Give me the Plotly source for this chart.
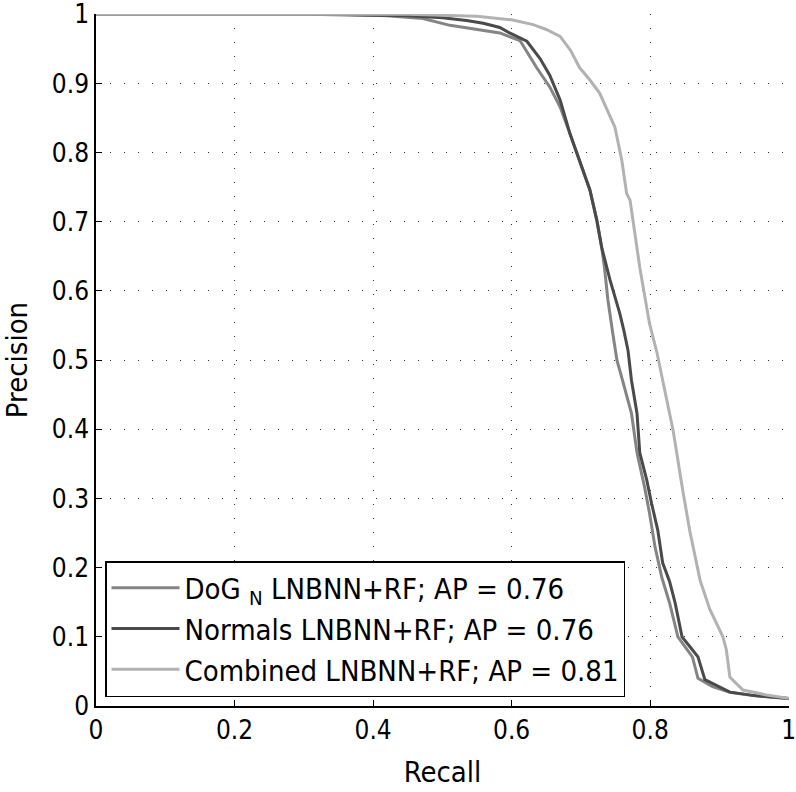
import plotly.graph_objects as go

# Combined LNBNN+RF (light gray)
comb_recall = [0, 0.45, 0.55, 0.60, 0.631, 0.65, 0.670, 0.685, 0.698, 0.713, 0.727, 0.738, 0.749,
               0.759, 0.766, 0.771, 0.781, 0.785, 0.799, 0.810, 0.818, 0.833, 0.847, 0.857, 0.872,
               0.886, 0.905, 0.910, 0.915, 0.934, 0.968, 1.0]
comb_prec = [1, 1, 0.997, 0.992, 0.985, 0.978, 0.968, 0.948, 0.923, 0.905, 0.886, 0.862, 0.837,
             0.789, 0.741, 0.731, 0.663, 0.634, 0.553, 0.510, 0.471, 0.399, 0.312, 0.254, 0.182,
             0.140, 0.100, 0.081, 0.042, 0.023, 0.016, 0.011]

# Normals LNBNN+RF (dark gray)
norm_recall = [0, 0.30, 0.45, 0.50, 0.535, 0.559, 0.583, 0.597, 0.622, 0.641, 0.655, 0.670, 0.684,
               0.698, 0.713, 0.723, 0.730, 0.742, 0.756, 0.762, 0.768, 0.773, 0.781, 0.785, 0.795,
               0.802, 0.811, 0.818, 0.828, 0.836, 0.846, 0.858, 0.869, 0.879, 0.895, 0.915, 0.95, 1.0]
norm_prec = [1, 1, 0.998, 0.995, 0.991, 0.987, 0.981, 0.973, 0.961, 0.936, 0.912, 0.876, 0.828,
             0.789, 0.746, 0.702, 0.663, 0.616, 0.568, 0.543, 0.514, 0.471, 0.423, 0.366, 0.327,
             0.293, 0.254, 0.207, 0.180, 0.149, 0.100, 0.085, 0.071, 0.038, 0.030, 0.020, 0.015, 0.011]

# DoG_N LNBNN+RF (medium gray)
dog_recall = [0, 0.35, 0.42, 0.472, 0.511, 0.559, 0.583, 0.612, 0.636, 0.655, 0.670, 0.684, 0.698,
              0.713, 0.723, 0.730, 0.734, 0.739, 0.746, 0.752, 0.760, 0.773, 0.781, 0.792, 0.799,
              0.807, 0.817, 0.828, 0.840, 0.861, 0.869, 0.89, 0.915, 0.95, 1.0]
dog_prec = [1, 1, 0.998, 0.994, 0.984, 0.977, 0.973, 0.962, 0.923, 0.895, 0.866, 0.828, 0.789,
            0.746, 0.702, 0.663, 0.634, 0.587, 0.539, 0.500, 0.471, 0.423, 0.366, 0.316, 0.279,
            0.230, 0.185, 0.149, 0.100, 0.071, 0.040, 0.028, 0.020, 0.015, 0.011]

tick_vals_x = [0, 0.2, 0.4, 0.6, 0.8, 1]
tick_text_x = ["0", "0.2", "0.4", "0.6", "0.8", "1"]
tick_vals_y = [0, 0.1, 0.2, 0.3, 0.4, 0.5, 0.6, 0.7, 0.8, 0.9, 1]
tick_text_y = ["0", "0.1", "0.2", "0.3", "0.4", "0.5", "0.6", "0.7", "0.8", "0.9", "1"]

FONT = "DejaVu Sans Condensed, sans-serif"

fig = go.Figure()
fig.add_trace(go.Scatter(x=dog_recall, y=dog_prec, mode="lines",
                         line=dict(color="#848484", width=3),
                         name="DoG <sub>N</sub> LNBNN+RF; AP = 0.76"))
fig.add_trace(go.Scatter(x=norm_recall, y=norm_prec, mode="lines",
                         line=dict(color="#4a4a4a", width=3),
                         name="Normals LNBNN+RF; AP = 0.76"))
fig.add_trace(go.Scatter(x=comb_recall, y=comb_prec, mode="lines",
                         line=dict(color="#b2b2b2", width=3),
                         name="Combined LNBNN+RF; AP = 0.81"))

axis_common = dict(
    showline=True, linecolor="black", linewidth=1.5, mirror=False,
    ticks="inside", ticklen=6, tickcolor="black", tickwidth=1,
    showgrid=True, gridcolor="#333333", gridwidth=1, griddash="1px,13px",
    zeroline=False, tickfont=dict(family=FONT, size=26, color="black"),
    automargin=False, ticklabeloverflow="allow",
)

fig.update_xaxes(range=[0, 1.0004], tickvals=tick_vals_x, ticktext=tick_text_x,
                 title=dict(text="Recall", font=dict(family=FONT, size=29, color="black"), standoff=18),
                 **axis_common)
fig.update_yaxes(range=[0, 1.0004], tickvals=tick_vals_y, ticktext=tick_text_y,
                 title=dict(text="Precision", font=dict(family=FONT, size=29, color="black"), standoff=18),
                 **axis_common)

fig.update_layout(
    width=796, height=792,
    margin=dict(l=96, r=7, t=14, b=86),
    paper_bgcolor="white", plot_bgcolor="white",
    font=dict(family=FONT, color="black"),
    showlegend=True,
    legend=dict(x=0.013, y=0.013, xanchor="left", yanchor="bottom",
                bgcolor="white", bordercolor="black", borderwidth=1.5,
                font=dict(family=FONT, size=29, color="black"),
                itemwidth=68, tracegroupgap=0),
)

fig.write_html("out.html", config={"displayModeBar": False},
               post_script="document.body.style.margin='0';document.body.style.overflow='hidden';")
